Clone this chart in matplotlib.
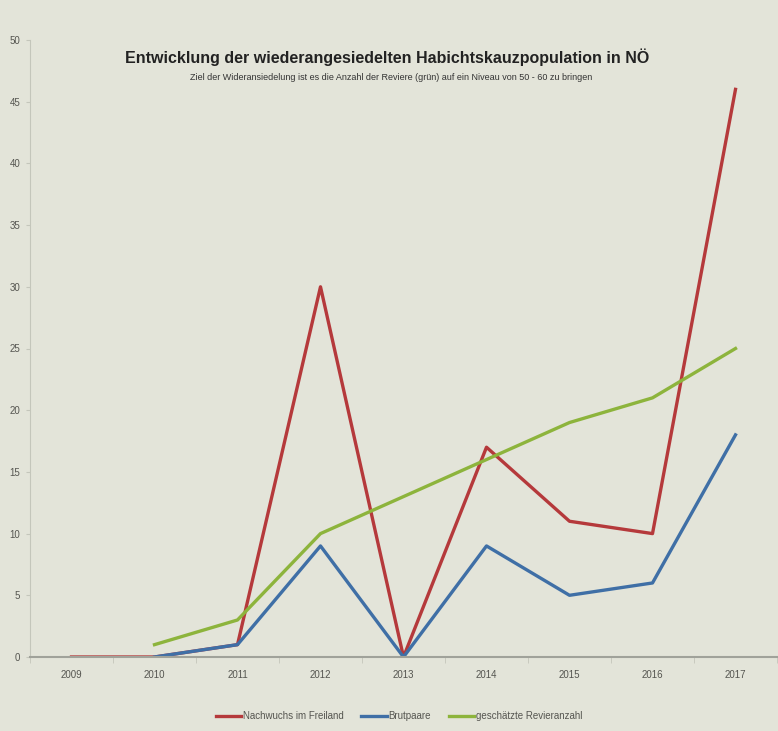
import numpy as np
import matplotlib.pyplot as plt

plt.rcParams["font.family"] = ["Liberation Sans", "DejaVu Sans"]

# === Daten ===
years = ["2009", "2010", "2011", "2012", "2013", "2014", "2015", "2016", "2017"]
nachwuchs = [0, 0, 1, 30, 0, 17, 11, 10, 46]
brutpaare = [np.nan, 0, 1, 9, 0, 9, 5, 6, 18]
reviere = [np.nan, 1, 3, 10, 13, 16, 19, 21, 25]

bg = "#e3e4d9"
col_red = "#b5393b"
col_blue = "#3f6fa6"
col_green = "#8db43c"

fig = plt.figure(figsize=(7.78, 7.31), dpi=100, facecolor=bg)
ax = fig.add_axes([30 / 778, 74 / 731, 747 / 778, 617 / 731])
ax.set_facecolor(bg)

x = np.arange(len(years))
ax.plot(x, nachwuchs, color=col_red, lw=2.4, label="Nachwuchs im Freiland")
ax.plot(x, brutpaare, color=col_blue, lw=2.4, label="Brutpaare")
ax.plot(x, reviere, color=col_green, lw=2.4, label="geschätzte Revieranzahl")

ax.set_xlim(-0.5, len(years) - 0.5)
ax.set_ylim(0, 50)
ax.set_yticks(range(0, 51, 5))
ax.set_xticks(x)
ax.set_xticklabels(years)
ax.set_xticks(np.arange(-0.5, len(years), 1), minor=True)

for s in ["top", "right"]:
    ax.spines[s].set_visible(False)
ax.spines["left"].set_color("#c4c6bb")
ax.spines["bottom"].set_color("#a0a29a")
ax.spines["bottom"].set_linewidth(1.5)

ax.tick_params(axis="y", labelsize=7, colors="#c4c6bb", length=3, labelcolor="#555550", pad=4)
ax.tick_params(axis="x", which="major", length=0, labelsize=7, labelcolor="#555550", pad=9)
ax.tick_params(axis="x", which="minor", length=4, color="#c4c6bb")

fig.text(0.497, 1 - 57 / 731, "Entwicklung der wiederangesiedelten Habichtskauzpopulation in NÖ",
         ha="center", va="center", fontsize=11.5, fontweight="bold", color="#222222")
fig.text(0.503, 1 - 78 / 731,
         "Ziel der Wideransiedelung ist es die Anzahl der Reviere (grün) auf ein Niveau von 50 - 60 zu bringen",
         ha="center", va="center", fontsize=6.5, color="#333333")

fig.legend(loc="center", bbox_to_anchor=(0.513, 1 - 716 / 731), ncol=3, frameon=False,
           fontsize=7, handlelength=2.6, handletextpad=0.2, columnspacing=1.8,
           labelcolor="#555550")

plt.savefig("out.png", dpi=100, facecolor=bg)
